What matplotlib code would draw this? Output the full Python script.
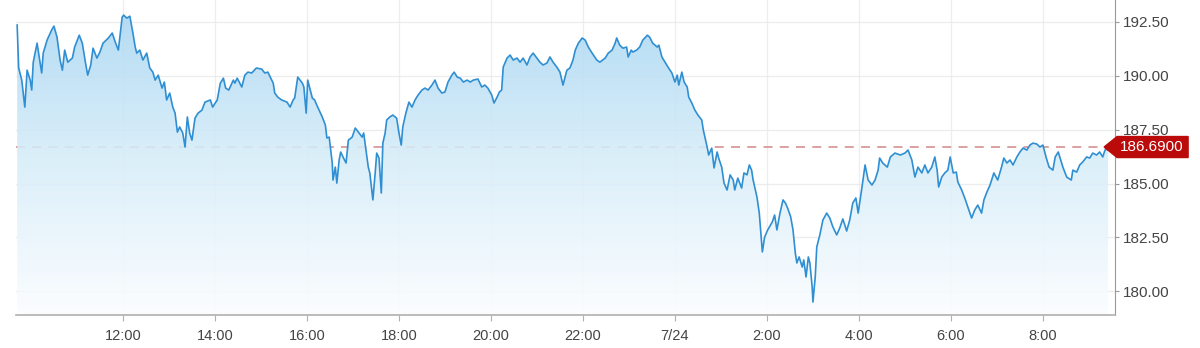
import numpy as np
import matplotlib
matplotlib.use("Agg")
import matplotlib.pyplot as plt
from matplotlib.patches import Polygon
from matplotlib.transforms import IdentityTransform
from matplotlib.colors import to_rgba

# minutes since 7/23 00:00
minutes = [582, 584, 588, 592, 595, 599, 601, 603, 608, 611, 614, 616, 621, 627, 630, 634, 638, 641, 644, 648,
           654, 657, 663, 667, 671, 674, 678, 681, 686, 690, 694, 701, 706, 710, 714, 719, 721, 725, 729, 733,
           736, 738, 742, 746, 751, 755, 759, 762, 766, 771, 774, 777, 781, 785, 788, 791, 794, 798, 801, 804,
           807, 810, 814, 818, 823, 827, 834, 837, 843, 847, 851, 854, 858, 864, 866, 869, 875, 879, 883, 888,
           894, 901, 905, 909, 916, 918, 922, 927, 934, 938, 942, 944, 948, 954, 956, 959, 961, 967, 970, 974,
           980, 984, 986, 989, 993, 994, 997, 999, 1002, 1004, 1007, 1011, 1014, 1019, 1023, 1027, 1032, 1034, 1037, 1040,
           1042, 1046, 1049, 1051, 1054, 1057, 1059, 1062, 1064, 1068, 1072, 1077, 1080, 1083, 1085, 1089, 1093, 1097, 1101, 1105,
           1110, 1114, 1118, 1123, 1127, 1131, 1136, 1140, 1144, 1149, 1152, 1156, 1160, 1164, 1169, 1173, 1177, 1183, 1188, 1192,
           1196, 1201, 1204, 1208, 1211, 1214, 1216, 1221, 1225, 1229, 1234, 1238, 1242, 1247, 1251, 1255, 1260, 1264, 1268, 1273,
           1277, 1281, 1286, 1290, 1294, 1299, 1303, 1307, 1310, 1314, 1319, 1323, 1327, 1332, 1338, 1342, 1349, 1353, 1358, 1362,
           1364, 1368, 1372, 1377, 1379, 1383, 1385, 1390, 1394, 1398, 1404, 1407, 1411, 1417, 1419, 1423, 1427, 1431, 1436, 1440,
           1443, 1445, 1449, 1452, 1456, 1458, 1462, 1466, 1470, 1475, 1477, 1480, 1482, 1484, 1488, 1491, 1495, 1497, 1501, 1504,
           1508, 1512, 1516, 1518, 1522, 1527, 1530, 1534, 1537, 1540, 1542, 1547, 1550, 1552, 1554, 1557, 1561, 1567, 1570, 1573,
           1577, 1581, 1584, 1587, 1591, 1594, 1597, 1599, 1602, 1606, 1608, 1611, 1614, 1616, 1619, 1620, 1623, 1625, 1629, 1633,
           1638, 1642, 1646, 1651, 1655, 1659, 1664, 1668, 1672, 1676, 1679, 1684, 1688, 1692, 1697, 1701, 1705, 1707, 1711, 1717,
           1721, 1727, 1734, 1740, 1744, 1749, 1753, 1757, 1762, 1766, 1770, 1775, 1779, 1782, 1784, 1788, 1792, 1796, 1799, 1803,
           1807, 1809, 1814, 1818, 1822, 1827, 1831, 1835, 1840, 1843, 1847, 1851, 1856, 1861, 1866, 1869, 1873, 1877, 1881, 1886,
           1890, 1894, 1899, 1903, 1907, 1912, 1916, 1920, 1924, 1928, 1933, 1936, 1940, 1942, 1946, 1951, 1957, 1959, 1964, 1968,
           1972, 1977, 1981, 1985, 1990, 1994, 1998, 2001, 2005]

prices = [192.34, 190.35, 189.79, 188.54, 190.25, 189.79, 189.33, 190.62, 191.50, 190.81, 190.12, 191.04, 191.64, 192.11, 192.29, 191.78, 190.72, 190.25, 191.18, 190.62,
          190.81, 191.32, 191.87, 191.50, 190.62, 190.02, 190.49, 191.27, 190.81, 191.09, 191.50, 191.74, 191.97, 191.55, 191.18, 192.71, 192.80, 192.66, 192.75, 191.97,
          191.32, 191.04, 191.18, 190.72, 191.04, 190.35, 190.16, 189.79, 190.02, 189.42, 189.70, 188.87, 189.19, 188.54, 188.26, 187.38, 187.62, 187.34, 186.69, 188.08,
          187.34, 187.01, 188.03, 188.26, 188.40, 188.77, 188.87, 188.54, 188.87, 189.65, 189.88, 189.42, 189.33, 189.79, 189.65, 189.88, 189.47, 190.02, 190.16, 190.12,
          190.35, 190.30, 190.12, 190.16, 189.65, 189.19, 189.00, 188.87, 188.77, 188.54, 188.87, 188.96, 189.93, 189.65, 189.47, 188.26, 189.79, 188.96, 188.87, 188.54,
          188.08, 187.71, 187.11, 187.15, 185.95, 185.16, 185.76, 185.02, 186.09, 186.46, 186.23, 185.95, 187.01, 187.15, 187.57, 187.38, 187.15, 187.34, 186.55, 185.76,
          185.49, 184.24, 185.49, 186.41, 186.18, 184.56, 186.87, 187.34, 187.94, 188.08, 188.17, 188.03, 187.34, 186.78, 187.62, 188.26, 188.77, 188.54, 188.87, 189.10,
          189.33, 189.42, 189.33, 189.56, 189.79, 189.42, 189.19, 189.24, 189.70, 190.02, 190.16, 189.93, 189.88, 189.70, 189.79, 189.70, 189.79, 189.84, 189.47, 189.56,
          189.42, 189.10, 188.73, 189.00, 189.24, 189.33, 190.39, 190.81, 190.95, 190.72, 190.81, 190.62, 190.81, 190.49, 190.86, 191.04, 190.81, 190.62, 190.49, 190.58,
          190.86, 190.62, 190.39, 190.16, 189.56, 190.25, 190.35, 190.72, 191.18, 191.50, 191.74, 191.64, 191.32, 191.04, 190.72, 190.62, 190.81, 191.04, 191.18, 191.50,
          191.74, 191.41, 191.27, 191.32, 190.86, 191.18, 191.09, 191.18, 191.32, 191.64, 191.87, 191.78, 191.50, 191.32, 191.41, 190.86, 190.62, 190.39, 190.12, 189.70,
          190.02, 189.56, 190.16, 189.70, 189.47, 189.00, 188.73, 188.40, 188.17, 187.94, 187.48, 187.01, 186.69, 186.32, 186.64, 185.72, 186.46, 186.18, 185.76, 185.02,
          184.70, 185.40, 185.16, 184.70, 185.25, 184.79, 185.49, 185.40, 185.86, 185.62, 185.16, 184.37, 183.63, 182.71, 181.83, 182.52, 182.85, 183.22, 183.54, 182.85,
          183.63, 184.24, 184.10, 183.86, 183.45, 182.85, 181.78, 181.32, 181.60, 181.13, 181.46, 180.67, 181.60, 181.32, 180.21, 179.51, 180.67, 182.06, 182.62, 183.31,
          183.63, 183.40, 182.99, 182.62, 182.94, 183.36, 182.80, 183.31, 184.10, 184.33, 183.63, 184.84, 185.86, 185.16, 184.93, 185.16, 185.62, 186.18, 185.95, 185.76,
          186.23, 186.41, 186.32, 186.41, 186.55, 186.09, 185.30, 185.76, 185.49, 185.86, 185.49, 185.76, 186.23, 185.62, 184.84, 185.30, 185.49, 185.62, 186.23, 185.49,
          185.53, 185.07, 184.70, 184.33, 183.91, 183.40, 183.77, 184.00, 183.63, 184.24, 184.61, 184.93, 185.49, 185.16, 185.76, 186.18, 185.95, 186.09, 185.86, 186.23,
          186.46, 186.64, 186.55, 186.78, 186.87, 186.83, 186.69, 186.78, 186.23, 185.76, 185.62, 186.23, 186.46, 186.23, 185.76, 185.30, 185.16, 185.62, 185.53, 185.86,
          186.00, 186.23, 186.18, 186.41, 186.32, 186.46, 186.23, 186.55, 186.69]

last_price = 186.69
last_label = "186.6900"
xtick_minutes = [720, 840, 960, 1080, 1200, 1320, 1440, 1560, 1680, 1800, 1920]
xtick_labels = ["12:00", "14:00", "16:00", "18:00", "20:00", "22:00", "7/24", "2:00", "4:00", "6:00", "8:00"]
ytick_values = [180.0, 182.5, 185.0, 187.5, 190.0, 192.5]

FONT = "Liberation Sans"
W, H = 1200, 348
fig = plt.figure(figsize=(W / 100, H / 100), dpi=100)
fig.patch.set_facecolor("white")
ax = fig.add_axes([16 / W, 33 / H, (1115 - 16) / W, (348 - 33) / H])
ax.set_facecolor("white")

xmin, xmax = 580.5, 2014.0
ymin, ymax = 178.91, 193.50

# grid
for xt in xtick_minutes:
    ax.axvline(xt, color="#eeeeee", lw=0.9, zorder=0)
for yt in ytick_values:
    ax.axhline(yt, color="#ececec", lw=0.9, zorder=0)

# dashed last-price line (behind the fill)
ax.axhline(last_price, color="#d89a9a", lw=1.3, ls=(0, (5, 4)), zorder=1)

# gradient fill clipped to area under the curve
verts = [(minutes[0], ymin)] + list(zip(minutes, prices)) + [(minutes[-1], ymin)]
clip = Polygon(verts, closed=True, facecolor="none", edgecolor="none")
ax.add_patch(clip)
n = 256
stops_pos = np.array([0.0, 0.5, 1.0])  # 0 = bottom, 1 = top
c_bot = np.array(to_rgba("#fbfdff"))
c_mid = np.array(to_rgba("#d6edf9"))
c_top = np.array(to_rgba("#a7d5f2"))
pos = np.linspace(0, 1, n)
grad = np.zeros((n, 1, 4))
for i, p in enumerate(pos):
    if p <= 0.5:
        f = p / 0.5
        grad[i, 0] = c_bot * (1 - f) + c_mid * f
    else:
        f = (p - 0.5) / 0.5
        grad[i, 0] = c_mid * (1 - f) + c_top * f
grad[:, 0, 3] = 0.88
im = ax.imshow(grad, extent=[xmin, xmax, ymin, ymax], origin="lower", aspect="auto",
               zorder=2, interpolation="bilinear")
im.set_clip_path(clip)

# price line
ax.plot(minutes, prices, color="#2f8fd2", lw=1.2, zorder=3, solid_joinstyle="round")

ax.set_xlim(xmin, xmax)
ax.set_ylim(ymin, ymax)

# spines / ticks
for s in ["top", "left"]:
    ax.spines[s].set_visible(False)
ax.spines["right"].set_color("#9a9a9a")
ax.spines["bottom"].set_color("#b0b0b0")
ax.spines["bottom"].set_linewidth(1.2)
ax.yaxis.tick_right()
ax.set_yticks(ytick_values)
ax.set_yticklabels([f"{v:.2f}" for v in ytick_values], fontfamily=FONT, fontsize=11, color="#444444")
ax.set_xticks(xtick_minutes)
ax.set_xticklabels(xtick_labels, fontfamily=FONT, fontsize=10.5, color="#444444")
ax.tick_params(axis="y", length=3, width=0.8, color="#9a9a9a", pad=3)
ax.tick_params(axis="x", length=4, width=0.8, color="#b0b0b0", pad=6)

# last price marker + label
fig.canvas.draw()
tx, ty = ax.transData.transform((minutes[-1], prices[-1]))
tag = [(tx - 4, ty), (tx + 9, ty + 10.5), (tx + 80, ty + 10.5), (tx + 80, ty - 10.5), (tx + 9, ty - 10.5)]
fig.add_artist(Polygon(tag, closed=True, facecolor="#bb0a0a", edgecolor="#bb0a0a",
                       transform=IdentityTransform(), zorder=5))
ax.plot([minutes[-1]], [prices[-1]], marker="o", ms=4, color="#6d97b5", zorder=6, clip_on=False)
fig.text((tx + 44) / W, ty / H, last_label, color="white", fontfamily=FONT, fontsize=11,
         ha="center", va="center", zorder=6)

fig.savefig("out.png", dpi=100)
